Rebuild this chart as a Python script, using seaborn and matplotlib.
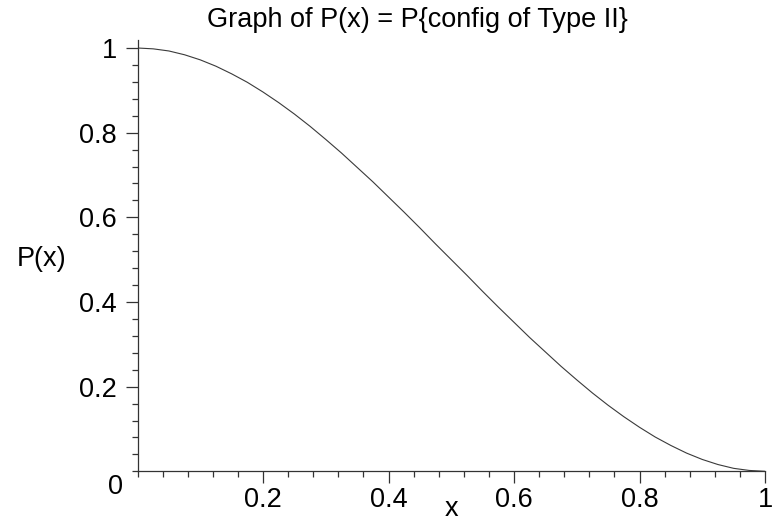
import numpy as np
import pandas as pd
import matplotlib
matplotlib.use("Agg")
import matplotlib.pyplot as plt
from matplotlib.ticker import MultipleLocator
import seaborn as sns

# values, every 0.025 in x
x_vals = [0.0, 0.025, 0.05, 0.075, 0.1, 0.125, 0.15, 0.175, 0.2, 0.225,
          0.25, 0.275, 0.3, 0.325, 0.35, 0.375, 0.4, 0.425, 0.45, 0.475,
          0.5, 0.525, 0.55, 0.575, 0.6, 0.625, 0.65, 0.675, 0.7, 0.725,
          0.75, 0.775, 0.8, 0.825, 0.85, 0.875, 0.9, 0.925, 0.95, 0.975, 1.0]
p_vals = [1.0, 0.998, 0.993, 0.984, 0.972, 0.957, 0.939, 0.919, 0.896, 0.871,
          0.844, 0.815, 0.784, 0.752, 0.718, 0.684, 0.648, 0.612, 0.575, 0.537,
          0.5, 0.463, 0.425, 0.388, 0.352, 0.316, 0.282, 0.248, 0.216, 0.185,
          0.156, 0.129, 0.104, 0.081, 0.061, 0.043, 0.028, 0.016, 0.007, 0.002, 0.0]

x_ticks = [0.2, 0.4, 0.6, 0.8, 1.0]
x_ticklabels = ["0.2", "0.4", "0.6", "0.8", "1"]
y_ticks = [0.2, 0.4, 0.6, 0.8, 1.0]
y_ticklabels = ["0.2", "0.4", "0.6", "0.8", "1"]

sns.set_style("ticks")
plt.rcParams['font.family'] = ['Liberation Sans', 'DejaVu Sans']
plt.rcParams['text.color'] = 'black'

FS = 19.5

df = pd.DataFrame({"x": x_vals, "P": p_vals})

fig = plt.figure(figsize=(7.76, 5.23), dpi=100)
W, H = 776, 523
x0, x1 = 137.5, 765.0
ytop, ybot = 40.0, 471.3
ax = fig.add_axes([x0 / W, 1 - ybot / H, (x1 - x0) / W, (ybot - ytop) / H])

sns.lineplot(data=df, x="x", y="P", ax=ax, color="#3a3a3a", linewidth=0.8)

ax.set_xlim(0, 1)
ax.set_ylim(0, (ybot - ytop) / (ybot - 48.0))
for s in ["top", "right"]:
    ax.spines[s].set_visible(False)
for s in ["left", "bottom"]:
    ax.spines[s].set_color("#333333")
    ax.spines[s].set_linewidth(0.9)

ax.set_xticks(x_ticks)
ax.set_xticklabels(x_ticklabels)
ax.set_yticks(y_ticks)
ax.set_yticklabels(y_ticklabels)
ax.xaxis.set_minor_locator(MultipleLocator(0.04))
ax.yaxis.set_minor_locator(MultipleLocator(0.04))
ax.tick_params(axis="both", which="major", direction="out", length=8.5,
               width=0.9, color="#333333", labelsize=FS, labelcolor="black")
ax.tick_params(axis="x", which="major", pad=3)
ax.tick_params(axis="y", which="major", pad=6.5)
ax.tick_params(axis="both", which="minor", direction="out", length=4.5,
               width=0.9, color="#333333")
ax.set_xlabel("")
ax.set_ylabel("")

# origin label sits in the corner
ax.text(-0.035, -0.037, "0", transform=ax.transData, ha="center", va="center",
        fontsize=FS, clip_on=False)

fig.text(417 / W, 1 - 20 / H, "Graph of P(x) = P{config of Type II}",
         ha="center", va="center", fontsize=FS)
fig.text(41.5 / W, 1 - 259 / H, "P(x)", ha="center", va="center", fontsize=FS)
fig.text(451 / W, 0.001, "x", ha="center", va="bottom", fontsize=FS)

fig.savefig("out.png", dpi=100)
